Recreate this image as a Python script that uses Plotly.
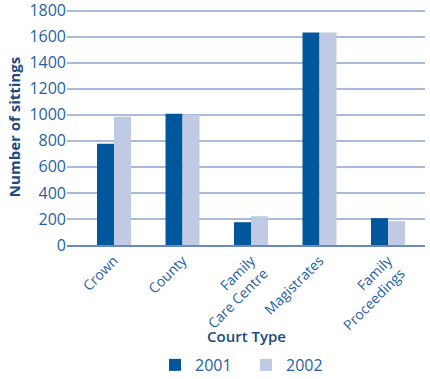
import plotly.graph_objects as go

categories = ["Crown", "County", "Family<br>Care Centre", "Magistrates", "Family<br>Proceedings"]
y2001 = [778, 1007, 175, 1632, 206]
y2002 = [984, 999, 221, 1632, 183]
yticks = [0, 200, 400, 600, 800, 1000, 1200, 1400, 1600, 1800]

txt = "#1f5fa8"
fig = go.Figure()
fig.add_bar(x=list(range(5)), y=y2001, name="2001", marker_color="#00579b", marker_line_width=0)
fig.add_bar(x=list(range(5)), y=y2002, name="2002", marker_color="#c0cae4", marker_line_width=0)

fig.update_layout(
    width=430, height=379,
    margin=dict(l=67, r=5, t=9, b=134, autoexpand=False),
    paper_bgcolor="white", plot_bgcolor="white",
    font=dict(family="Open Sans", size=16, color=txt),
    barmode="group", bargap=0.504, bargroupgap=0,
    showlegend=True,
    legend=dict(orientation="h", x=0.5, xanchor="center", yref="container", y=0.037, yanchor="middle",
                font=dict(size=16, color=txt), entrywidth=46, tracegroupgap=0),
    annotations=[dict(text="Court Type", x=0.5, xref="paper", y=-0.385, yref="paper",
                      yanchor="middle", showarrow=False,
                      font=dict(size=15, color="#1a4a80", family="Open Sans", weight=600))],
)
fig.update_xaxes(
    range=[-0.686, 4.54], tickmode="array", tickvals=list(range(5)), ticktext=categories,
    tickangle=-45, tickfont=dict(size=14, color=txt), showgrid=False, automargin=False,
    showline=True, linecolor="#6a8ab8", linewidth=2, ticks="",
)
fig.update_yaxes(
    range=[0, 1812], tickmode="array", tickvals=yticks, automargin=False,
    showgrid=True, gridcolor="#a9bbd9", gridwidth=2, zeroline=False,
    tickfont=dict(size=16, color=txt), ticks="", ticklen=0, ticklabeloverflow="allow",
    title=dict(text="<b>Number of sittings</b>", font=dict(size=15, color="#1a4a80"), standoff=5),
)
fig.write_html("out.html", config={"displayModeBar": False},
               post_script="document.body.style.margin='0';")
